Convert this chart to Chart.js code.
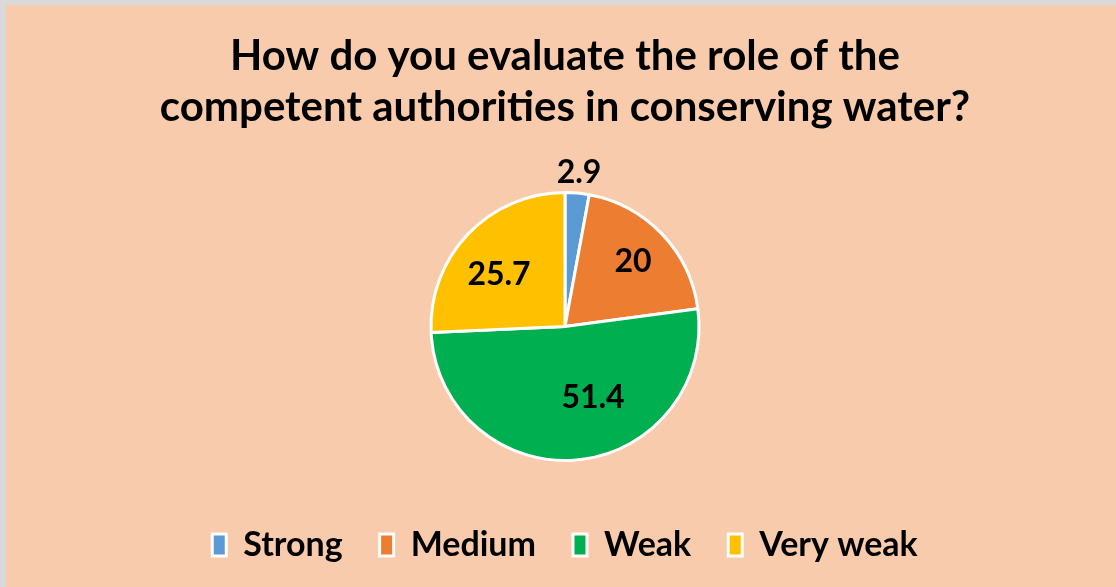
<!DOCTYPE html>
<html>
<head>
<meta charset="utf-8">
<script src="https://cdn.jsdelivr.net/npm/chart.js@4/dist/chart.umd.min.js"></script>
<style>
  html, body { margin: 0; padding: 0; background: #D9D9D9; }
  #wrap { position: absolute; left: 6px; top: 5px; width: 1110px; height: 582px; background: #F8CBAD; }
  canvas { display: block; }
</style>
</head>
<body>
<div id="wrap"><canvas id="c" width="1110" height="582"></canvas></div>
<script>
const categories = ["Strong", "Medium", "Weak", "Very weak"];
const values = [2.9, 20, 51.4, 25.7];
const valueLabels = ["2.9", "20", "51.4", "25.7"];
const sliceColors = ["#5B9BD5", "#ED7D31", "#00B050", "#FFC000"];
const titleLines = ["How do you evaluate the role of the", "competent authorities in conserving water?"];

const FONT = "Lato, 'Open Sans', sans-serif";

// label placement per slice: fraction of radius and angular shift (degrees)
const labelPlacement = [
  { frac: 1.15, shift: 0 },
  { frac: 0.70, shift: 0 },
  { frac: 0.57, shift: -16.5 },
  { frac: 0.625, shift: -5.7 }
];

const sliceLabels = {
  id: 'sliceLabels',
  afterDatasetsDraw(chart) {
    const ctx = chart.ctx;
    const meta = chart.getDatasetMeta(0);
    ctx.save();
    ctx.font = "bold 32px " + FONT;
    ctx.fillStyle = "#000";
    ctx.textAlign = "center";
    ctx.textBaseline = "middle";
    meta.data.forEach((arc, i) => {
      const p = arc.getProps(['x', 'y', 'startAngle', 'endAngle', 'outerRadius'], true);
      const pl = labelPlacement[i];
      const a = (p.startAngle + p.endAngle) / 2 + pl.shift * Math.PI / 180;
      const r = p.outerRadius * pl.frac;
      ctx.fillText(valueLabels[i], p.x + Math.cos(a) * r, p.y + Math.sin(a) * r);
    });
    ctx.restore();
  }
};

new Chart(document.getElementById('c'), {
  type: 'pie',
  data: {
    labels: categories,
    datasets: [{
      data: values,
      backgroundColor: sliceColors,
      borderColor: "#FFFFFF",
      borderWidth: 3,
      hoverOffset: 0,
      radius: 134
    }]
  },
  options: {
    responsive: false,
    animation: false,
    layout: { padding: { left: 8, right: 0, top: 0, bottom: 15 } },
    plugins: {
      title: {
        display: true,
        text: titleLines,
        color: "#000",
        font: { family: FONT, size: 42, weight: 'bold', lineHeight: 1.214 },
        padding: { top: 26, bottom: 29 }
      },
      legend: {
        position: 'bottom',
        labels: {
          color: "#000",
          font: { family: FONT, size: 34, weight: 'bold' },
          boxWidth: 14,
          boxHeight: 22,
          padding: 37
        }
      },
      tooltip: { enabled: false }
    }
  },
  plugins: [sliceLabels]
});
</script>
</body>
</html>
